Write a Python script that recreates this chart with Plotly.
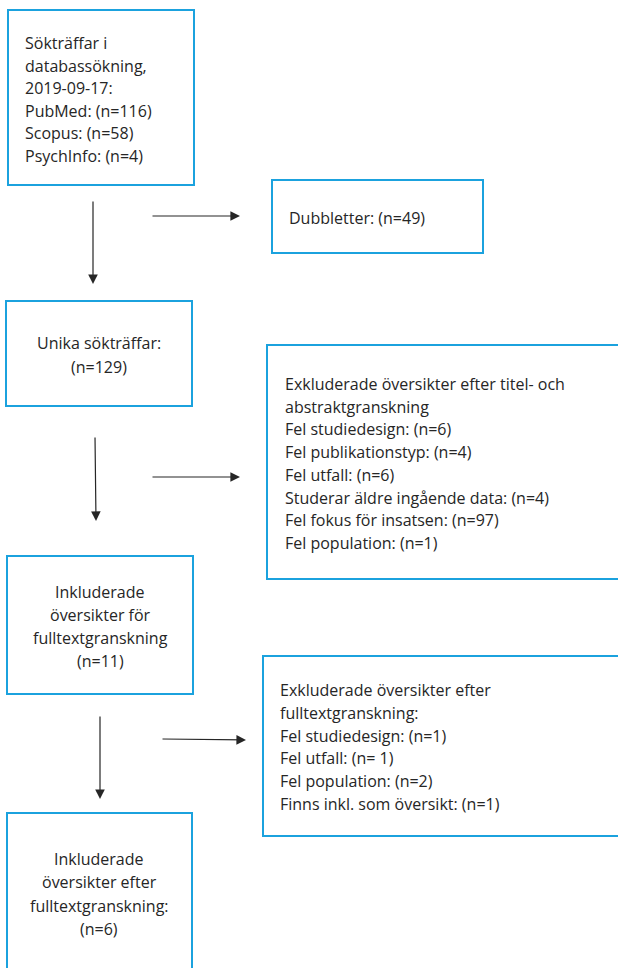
import plotly.graph_objects as go

# ---------------- data ----------------
search_date = "2019-09-17"
search_sources = ["PubMed", "Scopus", "PsychInfo"]
search_counts = [116, 58, 4]
duplicates = 49
unique_hits = 129
excl_ta_reasons = ["Fel studiedesign", "Fel publikationstyp", "Fel utfall",
                   "Studerar äldre ingående data", "Fel fokus för insatsen",
                   "Fel population"]
excl_ta_counts = [6, 4, 6, 4, 97, 1]
fulltext_count = 11
excl_ft_reasons = ["Fel studiedesign", "Fel utfall", "Fel population",
                   "Finns inkl. som översikt"]
excl_ft_counts = [1, 1, 2, 1]
excl_ft_spacing = ["", " ", "", ""]
included_count = 6

# ---------------- text per box ----------------
box_texts = {
    "search": ["Sökträffar i", "databassökning,", f"{search_date}:"]
              + [f"{s}: (n={c})" for s, c in zip(search_sources, search_counts)],
    "dup": [f"Dubbletter: (n={duplicates})"],
    "unique": ["Unika sökträffar:", f"(n={unique_hits})"],
    "excl_ta": ["Exkluderade översikter efter titel- och", "abstraktgranskning"]
               + [f"{r}: (n={c})" for r, c in zip(excl_ta_reasons, excl_ta_counts)],
    "fulltext": ["Inkluderade", "översikter för", "fulltextgranskning",
                 f"(n={fulltext_count})"],
    "excl_ft": ["Exkluderade översikter efter", "fulltextgranskning:"]
               + [f"{r}: (n={sp}{c})" for r, c, sp in
                  zip(excl_ft_reasons, excl_ft_counts, excl_ft_spacing)],
    "included": ["Inkluderade", "översikter efter", "fulltextgranskning:",
                 f"(n={included_count})"],
}

# ---------------- layout spec (pixel space) ----------------
W, H = 618, 968
boxes = {
    # x0, y0, x1, y1, text x, first line y, line step, align
    "search":   (8, 10, 194, 185, 23, 43, 22.6, "left"),
    "dup":      (272, 180, 483, 253, 287, 218, 22.6, "left"),
    "unique":   (6, 301, 192, 406, 99, 343, 23.5, "center"),
    "excl_ta":  (267, 345, 630, 579, 283, 384, 22.7, "left"),
    "fulltext": (7, 556, 193, 694, 100, 592, 23.0, "center"),
    "excl_ft":  (263, 656, 630, 836, 278, 690, 22.8, "left"),
    "included": (7, 813, 192, 990, 99, 859, 23.3, "center"),
}
arrows = [
    # tail x, tail y, head x, head y
    (93, 200, 93, 284),
    (151, 216, 240, 216),
    (95, 436, 96, 521),
    (151, 477, 240, 477),
    (100, 715, 100, 799),
    (161, 739, 246, 740),
]

BORDER = "#1ba2de"
TEXT = "#262626"
FONT = "Open Sans"
FSIZE = 16

fig = go.Figure()
fig.add_trace(go.Scatter(x=[0, W], y=[0, H], mode="markers",
                         marker=dict(opacity=0), hoverinfo="skip",
                         showlegend=False))

shapes = []
annotations = []
for key, (x0, y0, x1, y1, tx, ty, step, align) in boxes.items():
    shapes.append(dict(type="rect", xref="x", yref="y", x0=x0, y0=y0,
                       x1=x1, y1=y1, line=dict(color=BORDER, width=2),
                       fillcolor="rgba(0,0,0,0)", layer="above"))
    for i, line in enumerate(box_texts[key]):
        annotations.append(dict(
            x=tx, y=ty + i * step, xref="x", yref="y", text=line,
            showarrow=False, xanchor="left" if align == "left" else "center",
            yanchor="middle", align=align,
            font=dict(family=FONT, size=FSIZE, color=TEXT)))

for (ax, ay, hx, hy) in arrows:
    annotations.append(dict(
        x=hx, y=hy, ax=ax, ay=ay, xref="x", yref="y", axref="x", ayref="y",
        text="", showarrow=True, arrowhead=2, arrowsize=1.6, arrowwidth=1.2,
        arrowcolor="#262626", standoff=0, startstandoff=0))

fig.update_layout(
    width=W, height=H, margin=dict(l=0, r=0, t=0, b=0),
    paper_bgcolor="white", plot_bgcolor="white",
    xaxis=dict(range=[0, W], visible=False, fixedrange=True),
    yaxis=dict(range=[H, 0], visible=False, fixedrange=True),
    shapes=shapes, annotations=annotations, showlegend=False,
)

fig.write_html(
    "out.html",
    config={"displayModeBar": False},
    post_script="document.body.style.margin='0';"
                "document.body.style.overflow='hidden';",
)
